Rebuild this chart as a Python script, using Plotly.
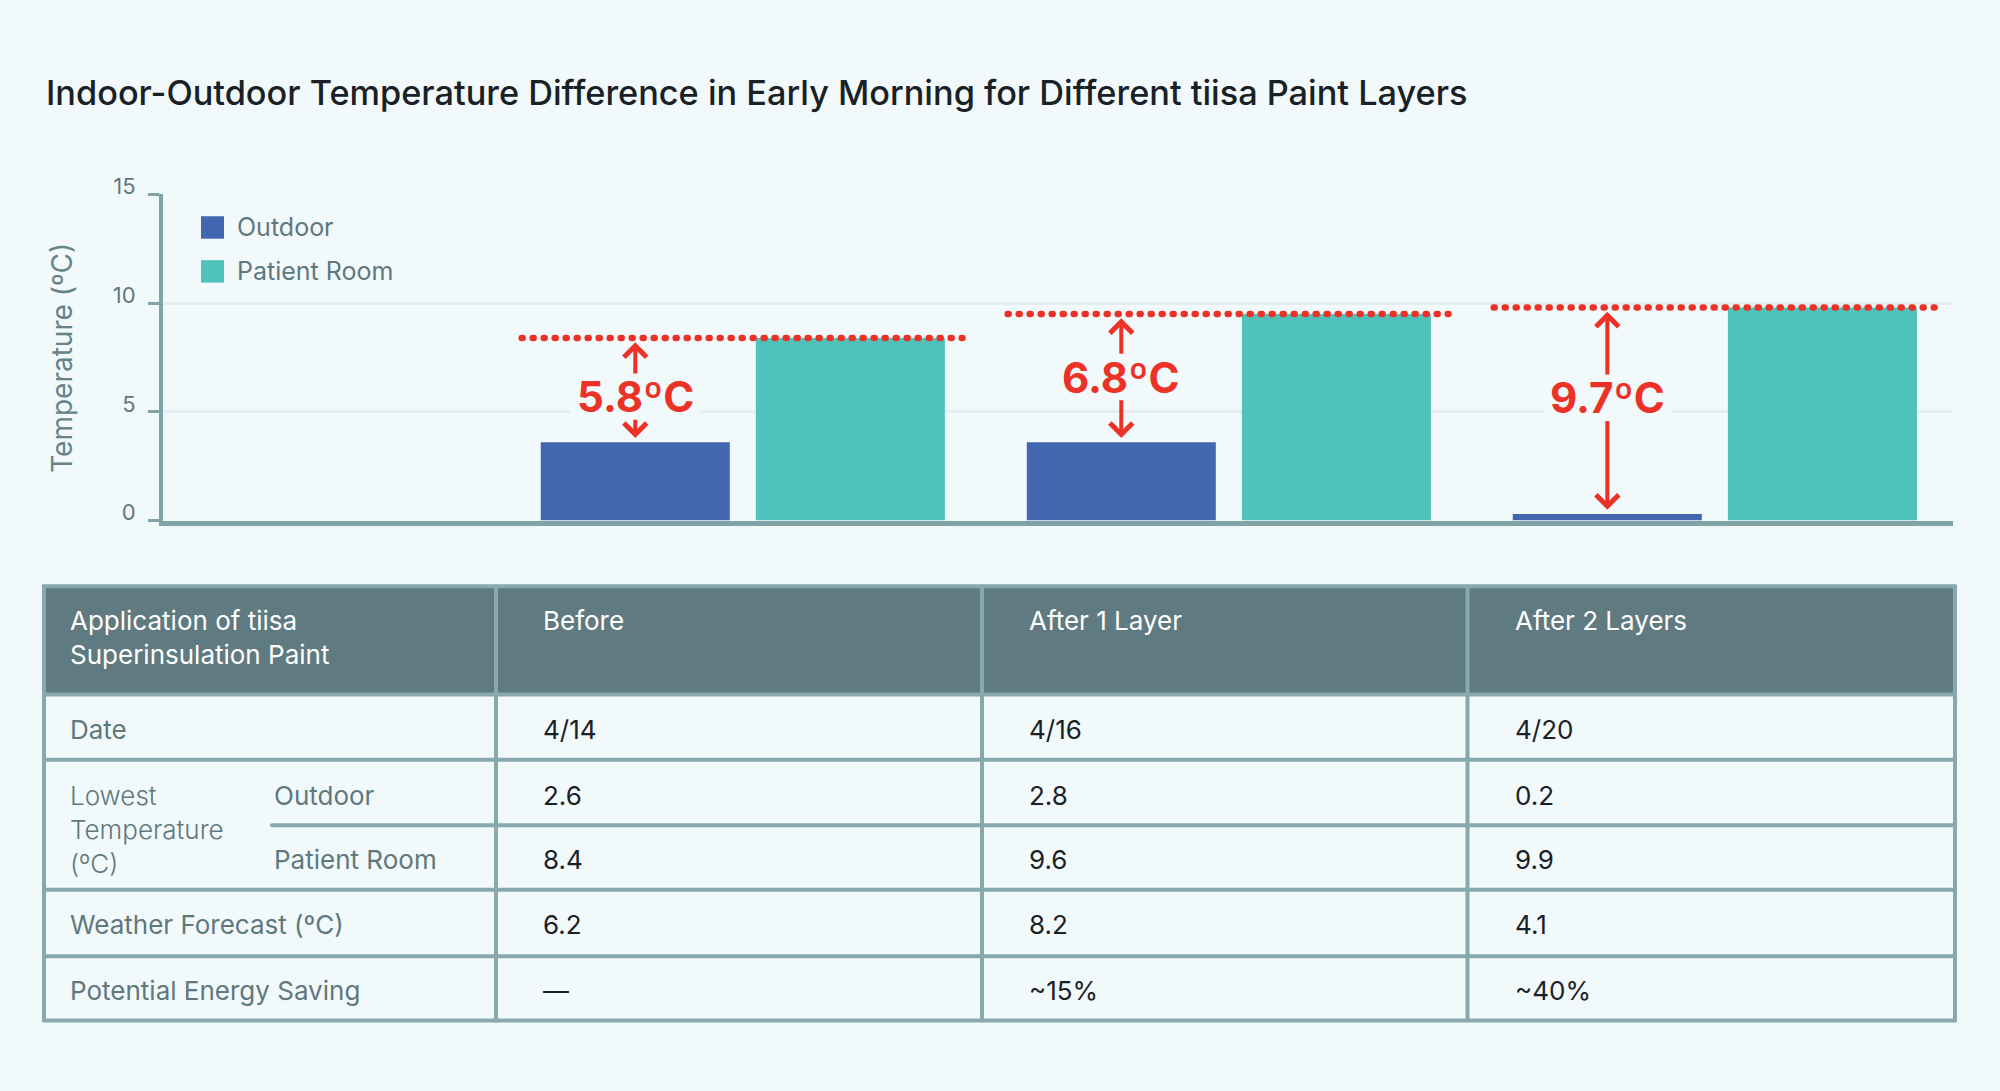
import numpy as np
import plotly.graph_objects as go

# ---- chart data (bar heights) ----
stages = ["Before", "After 1 Layer", "After 2 Layers"]
outdoor_bar = [3.6, 3.6, 0.3]
room_bar = [8.4, 9.5, 9.8]
diff_labels = ["5.8ºC", "6.8ºC", "9.7ºC"]
y_ticks = [0, 5, 10, 15]

# ---- table data ----
dates = ["4/14", "4/16", "4/20"]
low_outdoor = ["2.6", "2.8", "0.2"]
low_room = ["8.4", "9.6", "9.9"]
forecast = ["6.2", "8.2", "4.1"]
saving = ["—", "~15%", "~40%"]

# colours
BG = "#f2f9fb"
BLUE = "#4267b0"
TEAL = "#50c2bc"
RED = "#ec3226"
AXIS = "#7fa3a7"
GRID = "#e2eef1"
MUTED = "#5e787d"
DARK = "#1a2126"
HEAD = "#5f7a80"
BORDER = "#87a8ac"
FONT = "Inter"

W, H = 2000, 1091


def px(x):
    return x / W


def py(y):
    return 1 - y / H


fig = go.Figure()
fig.add_trace(go.Bar(x=stages, y=outdoor_bar, name="Outdoor",
                     marker=dict(color=BLUE, line=dict(width=0))))
fig.add_trace(go.Bar(x=stages, y=room_bar, name="Patient Room",
                     marker=dict(color=TEAL, line=dict(width=0))))

bargap = 0.115
shapes, annos = [], []

# dotted reference lines at patient-room level
for i, v in enumerate(room_bar):
    shapes.append(dict(type="line", xref="x", yref="y", x0=i - 0.455, x1=i + 0.452,
                       y0=v, y1=v, line=dict(color=RED, width=6.5, dash="1px,10px")))

# difference labels and arrows
label_y = [5.7, 6.6, 5.65]
off = -(1 - bargap) / 4
for i in range(len(stages)):
    xc = i + off
    annos.append(dict(x=xc, y=label_y[i], xref="x", yref="y", text=diff_labels[i],
                      xanchor="center", yanchor="middle",
                      showarrow=False, bgcolor=BG, borderpad=6,
                      font=dict(family=FONT, size=42, color=RED, weight=700)))
for i in range(len(stages)):
    xc = i + off
    for tip, tail in [(room_bar[i] - 0.2, label_y[i] + 1.0),
                      (outdoor_bar[i] + 0.2, label_y[i] - 1.0)]:
        annos.append(dict(x=xc, y=tip, ax=xc, ay=tail, xref="x", yref="y",
                          axref="x", ayref="y", text="", showarrow=True,
                          arrowhead=4, arrowsize=1.1, arrowwidth=4,
                          arrowcolor=RED, standoff=0))

# title and y-axis title
annos.append(dict(x=px(44), y=py(73), xref="paper", yref="paper", xanchor="left",
                  yanchor="middle", showarrow=False,
                  text="Indoor-Outdoor Temperature Difference in Early Morning for Different tiisa Paint Layers",
                  font=dict(family=FONT, size=34.3, color=DARK, weight=500)))
annos.append(dict(x=px(62), y=py(345), xref="paper", yref="paper", textangle=-90,
                  xanchor="center", yanchor="middle",
                  showarrow=False, text="Temperature (ºC)",
                  font=dict(family=FONT, size=28, color="#67838a")))

# legend drawn by hand
for (y0, y1), name, col in [((200, 223), "Outdoor", BLUE), ((245, 268), "Patient Room", TEAL)]:
    shapes.append(dict(type="rect", xref="paper", yref="paper", x0=px(201), x1=px(224),
                       y0=py(y1), y1=py(y0), fillcolor=col, line=dict(width=0)))
    annos.append(dict(x=px(235), y=py((y0 + y1) / 2), xref="paper", yref="paper",
                      xanchor="left", yanchor="middle", showarrow=False, text=name,
                      font=dict(family=FONT, size=25, color=MUTED)))

# ---- table ----
col_x = [44, 496, 982, 1467.5, 1955]
row_y = [579, 690, 756.7, 824, 890, 958, 1024]
shapes.append(dict(type="rect", xref="paper", yref="paper", x0=px(col_x[0]), x1=px(col_x[-1]),
                   y0=py(row_y[1]), y1=py(row_y[0]), fillcolor=HEAD, line=dict(width=0)))
for r, yy in enumerate(row_y):
    x0 = 272 if r == 3 else col_x[0]
    shapes.append(dict(type="line", xref="paper", yref="paper", x0=px(x0), x1=px(col_x[-1]),
                       y0=py(yy), y1=py(yy), line=dict(color=BORDER, width=4)))
for cx in col_x:
    shapes.append(dict(type="line", xref="paper", yref="paper", x0=px(cx), x1=px(cx),
                       y0=py(row_y[0]), y1=py(row_y[-1]), line=dict(color=BORDER, width=4)))


def cell(x, y, text, color, size=26, weight=400):
    annos.append(dict(x=px(x), y=py(y), xref="paper", yref="paper", xanchor="left",
                      yanchor="middle", align="left", showarrow=False, text=text,
                      font=dict(family=FONT, size=size, color=color, weight=weight)))


cell(68, 632, "Application of tiisa<br>Superinsulation Paint", "white")
val_x = [541, 1027, 1513]
for i, s in enumerate(stages):
    cell(val_x[i], 614, s, "white")

cell(68, 726, "Date", MUTED)
cell(68, 828, "Lowest<br>Temperature<br>(ºC)", MUTED, weight=300)
cell(272, 793, "Outdoor", MUTED)
cell(272, 859, "Patient Room", MUTED)
cell(68, 926, "Weather Forecast (ºC)", MUTED)
cell(68, 993, "Potential Energy Saving", MUTED)
for i in range(len(stages)):
    cell(val_x[i], 726, dates[i], DARK)
    cell(val_x[i], 793, low_outdoor[i], DARK)
    cell(val_x[i], 859, low_room[i], DARK)
    cell(val_x[i], 926, forecast[i], DARK)
    cell(val_x[i], 993, saving[i], DARK)

fig.update_layout(
    width=W, height=H, margin=dict(l=0, r=0, t=0, b=0),
    paper_bgcolor=BG, plot_bgcolor=BG, showlegend=False,
    barmode="group", bargap=bargap, bargroupgap=0.121,
    font=dict(family=FONT),
    shapes=shapes, annotations=annos,
    xaxis=dict(domain=[px(163), px(1953)], range=[-1.193, 2.49], showticklabels=False,
               ticks="", showgrid=False, zeroline=False, showline=True,
               linecolor=AXIS, linewidth=5),
    yaxis=dict(domain=[py(511.7), py(177.7)], range=[0, 15], tickvals=y_ticks,
               showgrid=True, gridcolor=GRID, gridwidth=3, zeroline=False,
               showline=True, linecolor=AXIS, linewidth=4, ticks="outside",
               ticklen=11, tickwidth=3, tickcolor=AXIS, ticklabelshift=-8,
               ticklabelstandoff=8, tickfont=dict(family=FONT, size=22, color=MUTED)),
)

# no page margin, and round caps so the dashed lines become dots
js = ("document.body.style.margin='0';"
      "var s=document.createElement('style');"
      "s.textContent='.shapelayer path{stroke-linecap:round}';"
      "document.head.appendChild(s);")
fig.write_html("out.html", config={"displayModeBar": False}, post_script=js)
